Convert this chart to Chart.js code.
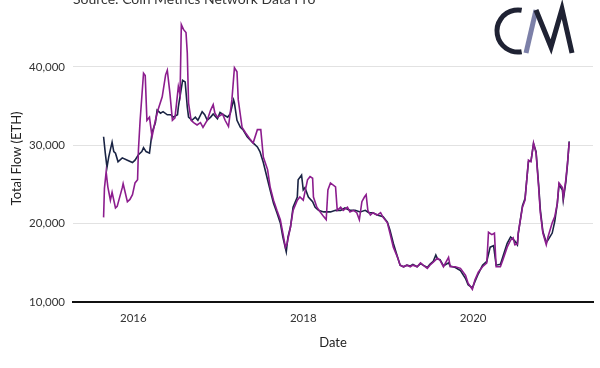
<!DOCTYPE html>
<html>
<head>
<meta charset="utf-8">
<script src="https://cdn.jsdelivr.net/npm/chart.js@4.4.1/dist/chart.umd.min.js"></script>
<style>
  html, body { margin: 0; padding: 0; background: #fff; }
  #wrap { width: 600px; height: 368px; position: relative; }
</style>
</head>
<body>
<div id="wrap"><canvas id="chart" width="600" height="368"></canvas></div>
<script>
// Dates as decimal years, values in ETH
const navyYears = [2015.65, 2015.67, 2015.69, 2015.71, 2015.75, 2015.77, 2015.79, 2015.82, 2015.87, 2015.93, 2015.99,
  2016.02, 2016.06, 2016.10, 2016.12, 2016.15, 2016.19, 2016.22, 2016.26, 2016.28, 2016.32, 2016.35, 2016.40, 2016.44,
  2016.47, 2016.52, 2016.53, 2016.58, 2016.61, 2016.635, 2016.65, 2016.69, 2016.73, 2016.76, 2016.81, 2016.84, 2016.87,
  2016.91, 2016.94, 2016.99, 2017.02, 2017.06, 2017.11, 2017.14, 2017.18, 2017.19, 2017.22, 2017.26, 2017.29, 2017.34,
  2017.40, 2017.46, 2017.49, 2017.53, 2017.58, 2017.61, 2017.65, 2017.69, 2017.73, 2017.76, 2017.80, 2017.82, 2017.85,
  2017.88, 2017.93, 2017.94, 2017.98, 2018.00, 2018.02, 2018.06, 2018.11, 2018.14, 2018.18, 2018.24, 2018.32, 2018.38,
  2018.44, 2018.49, 2018.55, 2018.61, 2018.67, 2018.73, 2018.77, 2018.82, 2018.87, 2018.94, 2018.99, 2019.02, 2019.06,
  2019.11, 2019.14, 2019.18, 2019.22, 2019.26, 2019.29, 2019.34, 2019.38, 2019.41, 2019.46, 2019.49, 2019.53, 2019.56,
  2019.58, 2019.61, 2019.65, 2019.71, 2019.73, 2019.79, 2019.85, 2019.91, 2019.94, 2019.99, 2020.02, 2020.06, 2020.11,
  2020.16, 2020.20, 2020.24, 2020.27, 2020.32, 2020.35, 2020.40, 2020.44, 2020.47, 2020.49, 2020.52, 2020.53, 2020.58,
  2020.61, 2020.65, 2020.68, 2020.71, 2020.74, 2020.77, 2020.79, 2020.82, 2020.86, 2020.88, 2020.93, 2020.96, 2020.99,
  2021.01, 2021.05, 2021.06, 2021.09, 2021.11, 2021.13];
const navyFlow = [31100, 29000, 27200, 28500, 30400, 29200, 29000, 27900, 28400, 28100, 27800,
  28100, 28800, 29200, 29700, 29200, 29000, 31600, 32900, 34500, 34100, 34300, 33900, 33900,
  33600, 33900, 34900, 38300, 38100, 34900, 33600, 33200, 33600, 33200, 34300, 33900, 33200,
  33600, 34000, 33400, 34200, 33900, 33600, 34000, 35800, 35400, 33200, 32300, 32000, 31100,
  30400, 29800, 29200, 27800, 25600, 24300, 22600, 21400, 20100, 18300, 16400, 18300, 19600,
  22100, 23400, 25600, 26200, 24300, 24600, 23400, 22800, 22100, 21700, 21500, 21500, 21700,
  21700, 22000, 21700, 21700, 21500, 21700, 21400, 21400, 21100, 20900, 20200, 19200, 17500,
  15700, 14700, 14500, 14700, 14600, 14800, 14500, 14900, 14700, 14400, 14800, 15200, 16000,
  15500, 15400, 14600, 15000, 14600, 14400, 14000, 13000, 12200, 11800, 12600, 13600, 14700,
  15200, 17000, 17200, 14700, 14800, 15800, 17500, 18300, 18000, 17800, 17300, 18700, 22300,
  23200, 27900, 28000, 30200, 29200, 25000, 21800, 19000, 17600, 17900, 18800, 20300, 22600,
  25000, 24300, 23000, 25300, 27600, 30500];

const purpleYears = [2015.65, 2015.66, 2015.68, 2015.70, 2015.73, 2015.75, 2015.79, 2015.81, 2015.87, 2015.88, 2015.93,
  2015.96, 2015.99, 2016.02, 2016.05, 2016.06, 2016.08, 2016.12, 2016.14, 2016.16, 2016.19, 2016.22, 2016.26, 2016.29,
  2016.34, 2016.38, 2016.40, 2016.43, 2016.46, 2016.49, 2016.53, 2016.55, 2016.565, 2016.59, 2016.62, 2016.635, 2016.65,
  2016.68, 2016.71, 2016.75, 2016.79, 2016.82, 2016.87, 2016.91, 2016.94, 2016.96, 2016.99, 2017.05, 2017.08, 2017.12,
  2017.16, 2017.19, 2017.22, 2017.235, 2017.28, 2017.32, 2017.38, 2017.41, 2017.46, 2017.50, 2017.53, 2017.58, 2017.61,
  2017.65, 2017.69, 2017.73, 2017.76, 2017.79, 2017.81, 2017.85, 2017.88, 2017.93, 2017.96, 2018.00, 2018.05, 2018.08,
  2018.11, 2018.12, 2018.16, 2018.20, 2018.24, 2018.27, 2018.29, 2018.32, 2018.38, 2018.40, 2018.44, 2018.47, 2018.52,
  2018.55, 2018.59, 2018.63, 2018.66, 2018.69, 2018.72, 2018.74, 2018.76, 2018.79, 2018.82, 2018.87, 2018.91, 2018.94,
  2018.99, 2019.02, 2019.06, 2019.11, 2019.14, 2019.18, 2019.22, 2019.26, 2019.29, 2019.34, 2019.38, 2019.41, 2019.46,
  2019.49, 2019.53, 2019.58, 2019.61, 2019.65, 2019.71, 2019.73, 2019.79, 2019.85, 2019.91, 2019.94, 2019.99, 2020.02,
  2020.06, 2020.11, 2020.16, 2020.18, 2020.22, 2020.25, 2020.27, 2020.32, 2020.35, 2020.40, 2020.44, 2020.47, 2020.49,
  2020.52, 2020.53, 2020.58, 2020.61, 2020.65, 2020.68, 2020.71, 2020.74, 2020.77, 2020.79, 2020.82, 2020.86, 2020.88,
  2020.93, 2020.96, 2020.99, 2021.01, 2021.05, 2021.06, 2021.09, 2021.11, 2021.13];
const purpleFlow = [20800, 24500, 26600, 24700, 23000, 24000, 22000, 22200, 24600, 25100, 22800,
  23100, 23700, 25200, 25600, 29400, 33200, 39200, 38900, 33200, 33600, 31100, 33200, 34500,
  36200, 39000, 39600, 36700, 33200, 33500, 37500, 36500, 45400, 44800, 44400, 41800, 35400,
  33200, 32900, 32600, 32900, 32300, 33200, 34500, 35200, 34100, 33600, 34000, 33200, 32400,
  35800, 39900, 39400, 35800, 32300, 31600, 30700, 30300, 32000, 32000, 28500, 26900, 24700,
  23000, 21700, 20500, 18800, 17000, 17500, 19600, 21700, 23000, 23400, 23000, 25600, 26000,
  25800, 23400, 22100, 21500, 20900, 20500, 24300, 25200, 24700, 21700, 22100, 21700, 22100,
  21500, 21700, 21400, 20500, 22800, 23400, 23700, 21700, 21100, 21400, 21100, 21400, 20800,
  20100, 18800, 17000, 15700, 14700, 14500, 14700, 14500, 14700, 14500, 15000, 14700, 14300,
  14700, 15100, 15600, 15300, 14500, 15700, 14500, 14500, 14300, 13400, 12400, 11600, 12800,
  13800, 14500, 15000, 18900, 18600, 18800, 14500, 14500, 15400, 17000, 17900, 18200, 17300,
  17400, 18800, 22100, 23000, 28100, 27900, 30300, 29000, 24700, 21400, 18800, 17300, 18300,
  20100, 20900, 22600, 25200, 24600, 23300, 25600, 27800, 30400];

const xTickYears = [2016, 2018, 2020];
const yTickValues = [10000, 20000, 30000, 40000];

const NAVY = '#1a2444';
const PURPLE = '#8c1d8e';
const FONT = 'Lato, "Open Sans", sans-serif';

function toPoints(xs, ys) {
  return xs.map((x, i) => ({ x: x, y: ys[i] }));
}

// Texto de fuente y logo CM
const decorPlugin = {
  id: 'decor',
  afterDraw(chart) {
    const ctx = chart.ctx;
    ctx.save();
    ctx.fillStyle = '#333';
    ctx.font = '14px ' + FONT;
    ctx.textBaseline = 'alphabetic';
    ctx.textAlign = 'left';
    ctx.fillText('Source: Coin Metrics Network Data Pro', 73, 4);

    // logo
    ctx.lineWidth = 5;
    ctx.lineCap = 'butt';
    ctx.lineJoin = 'miter';
    ctx.strokeStyle = '#1f2233';
    ctx.beginPath();
    ctx.arc(518, 31, 21, 80 * Math.PI / 180, 280 * Math.PI / 180);
    ctx.stroke();

    ctx.strokeStyle = '#7c80a8';
    ctx.beginPath();
    ctx.moveTo(526, 53);
    ctx.lineTo(536, 10);
    ctx.stroke();

    ctx.strokeStyle = '#1f2233';
    ctx.beginPath();
    ctx.moveTo(536, 10);
    ctx.lineTo(551, 47);
    ctx.lineTo(562, 9);
    ctx.lineTo(572, 53);
    ctx.stroke();
    ctx.restore();
  }
};

const ctx = document.getElementById('chart').getContext('2d');
new Chart(ctx, {
  type: 'line',
  data: {
    datasets: [
      {
        label: 'Purple',
        data: toPoints(purpleYears, purpleFlow),
        borderColor: PURPLE,
        borderWidth: 1.6,
        pointRadius: 0,
        tension: 0,
        fill: false
      },
      {
        label: 'Navy',
        data: toPoints(navyYears, navyFlow),
        borderColor: NAVY,
        borderWidth: 1.6,
        pointRadius: 0,
        tension: 0,
        fill: false
      }
    ]
  },
  options: {
    responsive: false,
    animation: false,
    layout: { padding: { top: 0, right: 7, left: 0, bottom: 17 } },
    plugins: {
      legend: { display: false },
      tooltip: { enabled: false }
    },
    scales: {
      x: {
        type: 'linear',
        min: 2015.29,
        max: 2021.41,
        afterBuildTicks: (scale) => { scale.ticks = xTickYears.map(v => ({ value: v })); },
        afterFit: (scale) => { scale.height = 49; },
        grid: { display: false, drawTicks: false },
        border: { display: true, color: '#111', width: 2 },
        ticks: {
          padding: 9,
          color: '#333',
          font: { family: FONT, size: 11.5 },
          callback: (v) => String(v)
        },
        title: {
          display: true,
          text: 'Date',
          color: '#222',
          font: { family: FONT, size: 13 },
          padding: { top: 8, bottom: 0 }
        }
      },
      y: {
        min: 10000,
        max: 46650,
        afterBuildTicks: (scale) => { scale.ticks = yTickValues.map(v => ({ value: v })); },
        afterFit: (scale) => { scale.width = 73; },
        grid: { color: '#e2e2e2', lineWidth: 1, drawTicks: false },
        border: { display: false },
        ticks: {
          padding: 8,
          color: '#333',
          font: { family: FONT, size: 11.5 },
          callback: (v) => v.toLocaleString('en-US')
        },
        title: {
          display: true,
          text: 'Total Flow (ETH)',
          color: '#222',
          font: { family: FONT, size: 13 },
          padding: { top: 9, bottom: 0 }
        }
      }
    }
  },
  plugins: [decorPlugin]
});
</script>
</body>
</html>
